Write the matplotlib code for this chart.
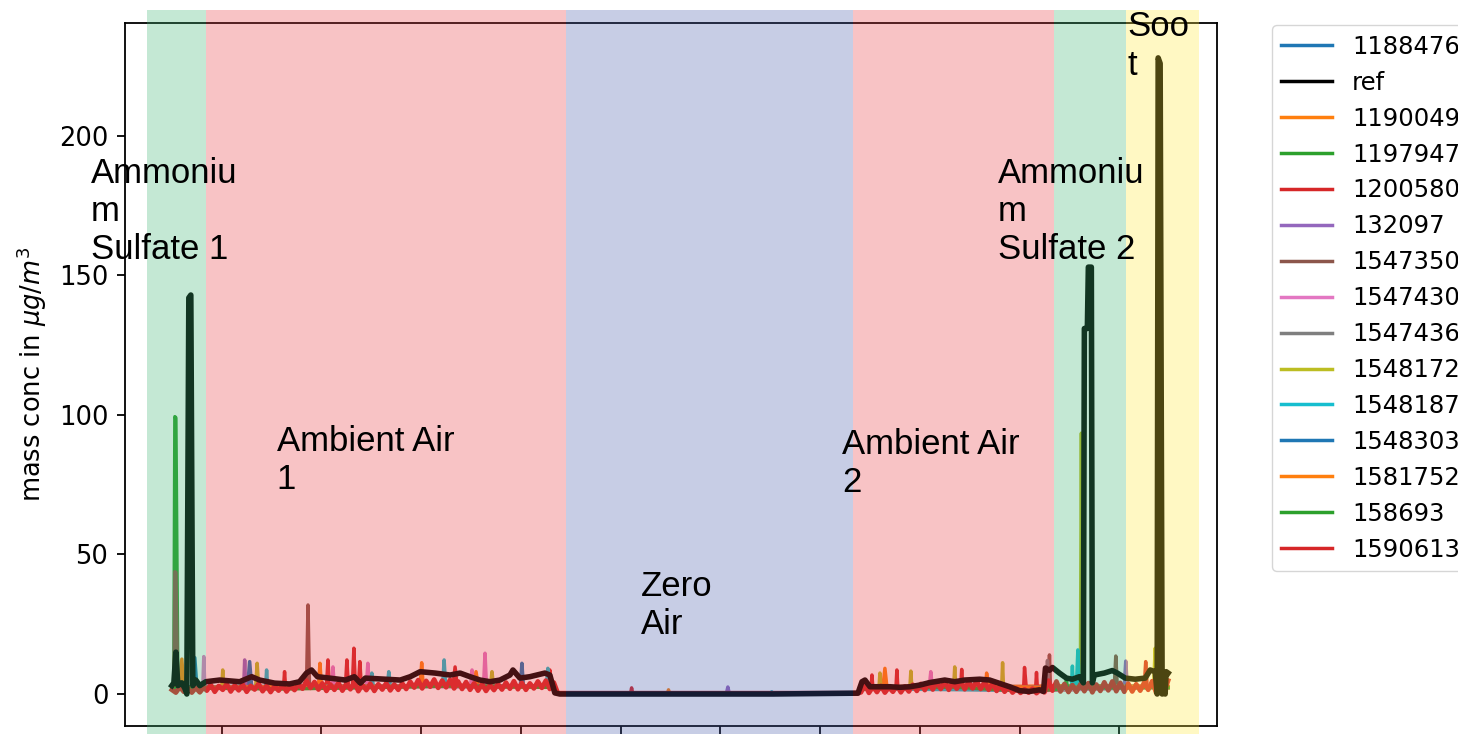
import numpy as np
import matplotlib.pyplot as plt

# ---- data (x in hours from start of run) ----
ref_t = [0.47, 0.49, 0.51, 0.53, 0.57, 0.60, 0.62, 0.64, 0.66, 0.68, 0.71, 0.75,
         0.81, 0.95, 1.15, 1.27, 1.35, 1.50, 1.65, 1.75, 1.82, 1.87, 1.93, 2.05,
         2.21, 2.30, 2.36, 2.41, 2.56, 2.76, 2.86, 2.96, 3.11, 3.26, 3.36, 3.46,
         3.56, 3.66, 3.76, 3.86, 3.89, 3.96, 4.06, 4.21, 4.26, 4.31, 4.36, 5.50,
         6.50, 7.35, 7.39, 7.42, 7.47, 7.67, 7.77, 7.87, 7.97, 8.07, 8.22, 8.32,
         8.42, 8.57, 8.67, 8.77, 8.87, 8.97, 9.07, 9.17, 9.21, 9.23, 9.27, 9.30,
         9.37, 9.44, 9.50, 9.57, 9.61, 9.62, 9.65, 9.66, 9.69, 9.70, 9.72, 9.82,
         9.90, 9.95, 10.03, 10.13, 10.23, 10.28, 10.33, 10.35, 10.36, 10.38, 10.40,
         10.41, 10.43, 10.44, 10.46]
ref_y = [3, 4, 15, 3, 4, 2, 0, 142, 143, 3, 5, 3,
         4.4, 5.0, 4.4, 6.2, 5.0, 3.9, 3.6, 4.4, 7.5, 8.6, 6.2, 5.7,
         5.0, 6.2, 3.9, 5.7, 5.4, 5.0, 6.2, 8.0, 7.5, 6.8, 7.5, 6.2,
         5.0, 4.4, 5.0, 6.8, 8.6, 5.7, 6.2, 7.5, 6.8, 0.4, 0.0, 0.0,
         0.0, 0.3, 4.4, 5.0, 2.6, 2.6, 2.4, 2.6, 3.2, 4.1, 5.0, 4.4,
         5.0, 5.3, 5.0, 3.8, 2.6, 1.2, 0.9, 1.5, 0.9, 9.3, 8.5, 9.5,
         7.5, 5.7, 5.3, 6.2, 4.0, 131, 131, 153, 153, 4.0, 6.8, 7.5,
         8.4, 7.5, 5.7, 5.3, 5.7, 8.6, 8.0, 0.0, 228, 226, 0.0,
         7.0, 0.0, 8.0, 7.5]

# 1590613: dense noisy sensor, sampled every 0.04 h
s1590613_t = np.concatenate([np.arange(0.47, 0.80, 0.04), np.arange(0.82, 4.31, 0.04),
                             [4.34, 7.34], np.arange(7.38, 10.47, 0.04)])
s1590613_y = [1.5, 0.5, 2.5, 0.8, 2.0, 0.5, 2.2, 0.6, 2.4,
              1.2, 3.3, 0.8, 2.9, 1.5, 3.6, 0.9, 3.1, 1.3, 3.4,
              0.8, 2.9, 1.6, 3.7, 1.0, 3.0, 0.7, 2.8, 1.2, 3.2,
              0.9, 2.9, 1.4, 3.5, 1.9, 4.8, 2.2, 4.3, 1.6, 3.8,
              1.1, 3.4, 1.5, 4.0, 1.2, 3.6, 1.7, 4.2, 1.0, 3.3,
              1.4, 3.7, 1.1, 3.5, 1.6, 3.9, 1.3, 3.4, 1.5, 3.8,
              1.8, 4.4, 2.3, 5.0, 2.0, 4.7, 2.6, 5.2, 2.2, 4.8,
              2.4, 5.1, 2.0, 4.5, 1.8, 4.3, 1.5, 3.8, 1.2, 3.5,
              1.1, 3.2, 1.4, 3.6, 1.6, 4.1, 1.9, 4.6, 1.7, 4.0,
              1.5, 3.8, 2.0, 4.5, 2.2, 4.8, 1.8, 4.1,
              0.3, 0.3,
              0.6, 3.4, 0.4, 2.6, 0.7, 2.9, 0.5, 2.4, 0.8, 3.0,
              0.6, 2.7, 0.9, 3.3, 1.1, 3.6, 1.4, 4.1, 1.6, 4.4,
              1.8, 4.6, 1.5, 4.2, 1.9, 4.8, 1.7, 4.5, 2.0, 4.7,
              1.8, 4.4, 1.5, 3.9, 1.1, 3.2, 0.8, 2.5, 0.5, 1.9,
              0.4, 1.7, 0.5, 1.9, 0.3, 1.6, 0.6, 4.8, 1.2, 4.5,
              0.9, 3.6, 0.7, 3.2, 0.8, 3.5, 1.0, 3.9, 0.6, 3.4,
              1.1, 4.2, 1.3, 4.5, 1.0, 4.0, 0.8, 3.7, 0.9, 3.5,
              1.2, 4.1, 1.5, 4.6, 0.4, 5.2, 0.6, 4.8]

s1188476_t = [0.47, 0.68, 0.70, 0.72, 0.90, 1.23, 1.25, 1.27, 2.00, 3.00, 4.30, 4.34,
              7.34, 7.40, 8.50, 9.30, 10.00, 10.46]
s1188476_y = [2.5, 2.5, 13.0, 2.8, 2.6, 2.8, 11.6, 2.7, 2.5, 3.0, 2.6, 0.1,
              0.1, 2.2, 2.8, 2.5, 2.9, 2.5]

s1190049_t = [0.47, 0.55, 0.57, 0.59, 1.00, 1.94, 1.955, 1.97, 3.00, 3.50, 3.52, 3.54,
              4.30, 4.34, 5.44, 5.45, 5.46, 7.34, 7.40, 7.60, 7.62, 7.64, 8.20, 8.63,
              8.64, 8.66, 9.50, 10.46]
s1190049_y = [2.0, 2.2, 12.5, 2.4, 2.6, 2.7, 11.0, 2.8, 3.0, 3.0, 8.0, 3.1,
              2.5, 0.1, 0.1, 1.5, 0.1, 0.1, 2.0, 2.3, 9.2, 2.5, 3.2, 2.8,
              7.5, 2.6, 3.0, 2.7]

s1197947_t = [0.47, 0.49, 0.50, 0.51, 0.53, 0.80, 1.50, 2.50, 3.50, 4.30, 4.34, 7.34,
              7.40, 8.00, 9.00, 9.60, 10.00, 10.46]
s1197947_y = [2.0, 2.0, 99.4, 99.0, 2.5, 2.2, 2.0, 2.4, 3.0, 2.5, 0.1, 0.1,
              1.8, 2.6, 1.2, 2.8, 2.6, 2.4]

s1200580_t = [0.47, 0.80, 1.59, 1.60, 1.61, 2.02, 2.035, 2.05, 2.21, 2.225, 2.24, 2.28,
              2.295, 2.31, 2.34, 2.355, 2.37, 3.29, 3.31, 3.33, 4.25, 4.26, 4.28, 4.34,
              5.07, 5.08, 5.09, 7.34, 7.40, 7.48, 7.49, 7.50, 7.73, 7.74, 7.75, 8.38,
              8.39, 8.40, 9.01, 9.02, 9.04, 9.13, 9.14, 9.15, 10.22, 10.235, 10.25, 10.46]
s1200580_y = [1.8, 2.2, 2.4, 8.0, 2.5, 2.6, 12.2, 2.7, 2.5, 12.2, 2.6, 2.8,
              16.4, 2.7, 2.6, 11.6, 2.5, 3.0, 9.7, 3.1, 2.8, 8.6, 2.4, 0.2,
              0.2, 2.2, 0.2, 0.2, 1.6, 1.8, 6.8, 1.9, 1.8, 8.6, 2.0, 2.6,
              8.8, 2.5, 1.0, 9.5, 1.1, 1.0, 7.7, 1.2, 2.4, 11.6, 2.5, 2.2]

s132097_t = [0.47, 0.90, 1.19, 1.20, 1.21, 2.50, 4.30, 4.34, 6.03, 6.045, 6.06, 7.34,
             7.40, 9.00, 10.02, 10.035, 10.05, 10.46]
s132097_y = [2.2, 2.4, 2.5, 12.2, 2.6, 2.8, 2.4, 0.1, 0.1, 2.5, 0.1, 0.1,
             2.0, 1.5, 2.8, 11.8, 2.9, 2.6]

s1547350_t = [0.47, 0.49, 0.50, 0.51, 0.53, 0.90, 1.82, 1.835, 1.85, 3.00, 4.30, 4.34,
              7.34, 7.40, 8.50, 9.26, 9.27, 9.28, 9.60, 9.61, 9.62, 9.92, 9.935, 9.95,
              10.46]
s1547350_y = [2.0, 2.0, 43.8, 43.5, 2.3, 2.5, 2.6, 31.9, 2.7, 2.8, 2.5, 0.1,
              0.1, 1.9, 2.6, 2.0, 14.0, 2.4, 2.5, 38.0, 2.5, 2.6, 13.6, 2.7,
              2.4]

s1547430_t = [0.47, 0.78, 0.79, 0.80, 2.07, 2.085, 2.10, 2.42, 2.435, 2.45, 3.465, 3.48,
              3.495, 3.595, 3.61, 3.625, 4.30, 4.34, 7.34, 7.40, 8.065, 8.08, 8.095, 9.00,
              10.46]
s1547430_y = [2.2, 2.4, 13.4, 2.5, 2.6, 9.7, 2.7, 2.6, 11.0, 2.7, 2.8, 8.6,
              2.9, 2.8, 14.6, 2.7, 2.5, 0.1, 0.1, 1.8, 2.6, 8.0, 2.5, 1.2,
              2.4]

s1547436_t = [0.47, 1.00, 2.00, 3.00, 4.30, 4.34, 7.34, 7.40, 9.24, 9.25, 9.26, 10.46]
s1547436_y = [2.1, 2.4, 2.5, 2.9, 2.4, 0.1, 0.1, 1.8, 2.2, 12.0, 2.3, 2.5]

s1548172_t = [0.47, 0.80, 0.97, 0.98, 0.99, 1.31, 1.325, 1.34, 3.665, 3.68, 3.695, 4.30,
              4.34, 7.34, 7.40, 7.56, 7.57, 7.58, 7.87, 7.88, 7.89, 8.31, 8.32, 8.33,
              8.79, 8.80, 8.81, 9.58, 9.59, 9.60, 10.315, 10.33, 10.345, 10.46]
s1548172_y = [2.0, 2.3, 2.4, 8.6, 2.5, 2.6, 11.0, 2.6, 2.9, 8.0, 2.8, 2.4,
              0.1, 0.1, 1.8, 2.0, 7.5, 2.0, 2.1, 8.2, 2.2, 2.7, 9.7, 2.6,
              1.5, 11.2, 1.4, 2.6, 93.5, 2.7, 2.8, 16.4, 2.8, 2.5]

s1548187_t = [0.47, 0.90, 1.41, 1.42, 1.43, 2.46, 2.475, 2.49, 2.63, 2.645, 2.66, 3.185,
              3.20, 3.215, 4.225, 4.24, 4.255, 4.34, 6.47, 6.485, 6.50, 7.34, 7.40, 9.00,
              9.49, 9.50, 9.51, 9.54, 9.555, 9.57, 10.46]
s1548187_y = [2.3, 2.5, 2.6, 8.6, 2.7, 2.6, 7.5, 2.7, 2.8, 8.0, 2.9, 3.0,
              12.2, 3.0, 2.9, 9.2, 2.6, 0.1, 0.1, 0.8, 0.1, 0.1, 1.9, 1.3,
              2.5, 10.0, 2.6, 2.6, 15.8, 2.7, 2.4]

s1548303_t = [0.47, 1.00, 2.00, 3.965, 3.98, 3.995, 4.30, 4.34, 7.34, 7.40, 8.60, 9.40, 10.46]
s1548303_y = [2.4, 2.6, 2.7, 2.9, 11.0, 2.8, 2.5, 0.1, 0.1, 2.0, 2.7, 2.5, 2.6]

s1581752_t = [0.47, 1.00, 2.96, 2.975, 2.99, 4.30, 4.34, 7.34, 7.40, 8.50, 9.30, 10.46]
s1581752_y = [2.2, 2.5, 2.8, 11.2, 2.9, 2.6, 0.1, 0.1, 2.1, 2.8, 2.4, 2.6]

s158693_t = [0.47, 0.80, 1.60, 2.40, 3.30, 4.30, 4.34, 7.34, 7.40, 8.30, 9.10, 9.43,
             9.44, 9.45, 10.46]
s158693_y = [1.9, 2.1, 1.8, 2.3, 2.9, 2.4, 0.1, 0.1, 1.7, 2.5, 0.9, 2.0,
             5.0, 2.1, 2.3]

# experiment phases
phase_start = [0.22, 0.81, 4.42, 7.30, 9.32, 10.04]
phase_end = [0.81, 4.42, 7.30, 9.32, 10.04, 10.77]
phase_color = ["mediumseagreen", "#e83a41", "#485cac", "#e83a41", "mediumseagreen", "#ffe83a"]
phase_label = ["Ammoniu\nm\nSulfate 1", "Ambient Air\n1", "Zero\nAir",
               "Ambient Air\n2", "Ammoniu\nm\nSulfate 2", "Soo\nt"]
label_x = [-0.34, 1.52, 5.17, 7.19, 8.75, 10.05]
label_y = [192.5, 96.4, 44.4, 95.3, 192.5, 245.0]

series = [
    ("1188476", s1188476_t, s1188476_y, "C0"),
    ("ref", ref_t, ref_y, "black"),
    ("1190049", s1190049_t, s1190049_y, "C1"),
    ("1197947", s1197947_t, s1197947_y, "C2"),
    ("1200580", s1200580_t, s1200580_y, "C3"),
    ("132097", s132097_t, s132097_y, "C4"),
    ("1547350", s1547350_t, s1547350_y, "C5"),
    ("1547430", s1547430_t, s1547430_y, "C6"),
    ("1547436", s1547436_t, s1547436_y, "C7"),
    ("1548172", s1548172_t, s1548172_y, "C8"),
    ("1548187", s1548187_t, s1548187_y, "C9"),
    ("1548303", s1548303_t, s1548303_y, "C0"),
    ("1581752", s1581752_t, s1581752_y, "C1"),
    ("158693", s158693_t, s158693_y, "C2"),
    ("1590613", s1590613_t, s1590613_y, "C3"),
]

# ---- plot ----
plt.rcParams["font.size"] = 18.5
fig = plt.figure(figsize=(14.58, 7.34), dpi=100)
ax = fig.add_axes([125 / 1458, 8 / 734, 1092 / 1458, 703 / 734])

for name, t, y, c in series:
    if name == "ref":
        ax.plot(t, y, color=c, lw=4, label=name, zorder=2.5)
    elif name == "1590613":
        # very noisy sensor, drawn heavier so it reads as a band
        ax.plot(t, y, color=c, lw=3.4, label=name)
    else:
        ax.plot(t, y, color=c, lw=2.5, label=name)

# phase shading sits on top of the lines
for x0, x1, c in zip(phase_start, phase_end, phase_color):
    ax.axvspan(x0, x1, ymin=-0.05, ymax=1.0185, color=c, alpha=0.3, lw=0,
               zorder=3, clip_on=False)

for lab, x, y in zip(phase_label, label_x, label_y):
    ax.text(x, y, lab, family="Liberation Sans", fontsize=25, va="top", ha="left",
            zorder=5)

ax.set_xlim(0, 10.95)
ax.set_ylim(-11.47, 240.5)
# time labels fall below the visible area
ax.set_xticks(np.arange(0.97, 10.9, 1.0))
ax.set_xticklabels([])
ax.set_ylabel(r"mass conc in $\mu g/m^3$", labelpad=7)
ax.tick_params(length=6, width=1.3, pad=6)
for s in ax.spines.values():
    s.set_linewidth(1.3)

leg = ax.legend(loc="upper left", bbox_to_anchor=(1.0501, 0.997), borderaxespad=0,
                fontsize=17.5, labelspacing=0.49, handlelength=2.1)
for line in leg.get_lines():
    line.set_linewidth(2.5)

fig.savefig("out.png", dpi=100)
